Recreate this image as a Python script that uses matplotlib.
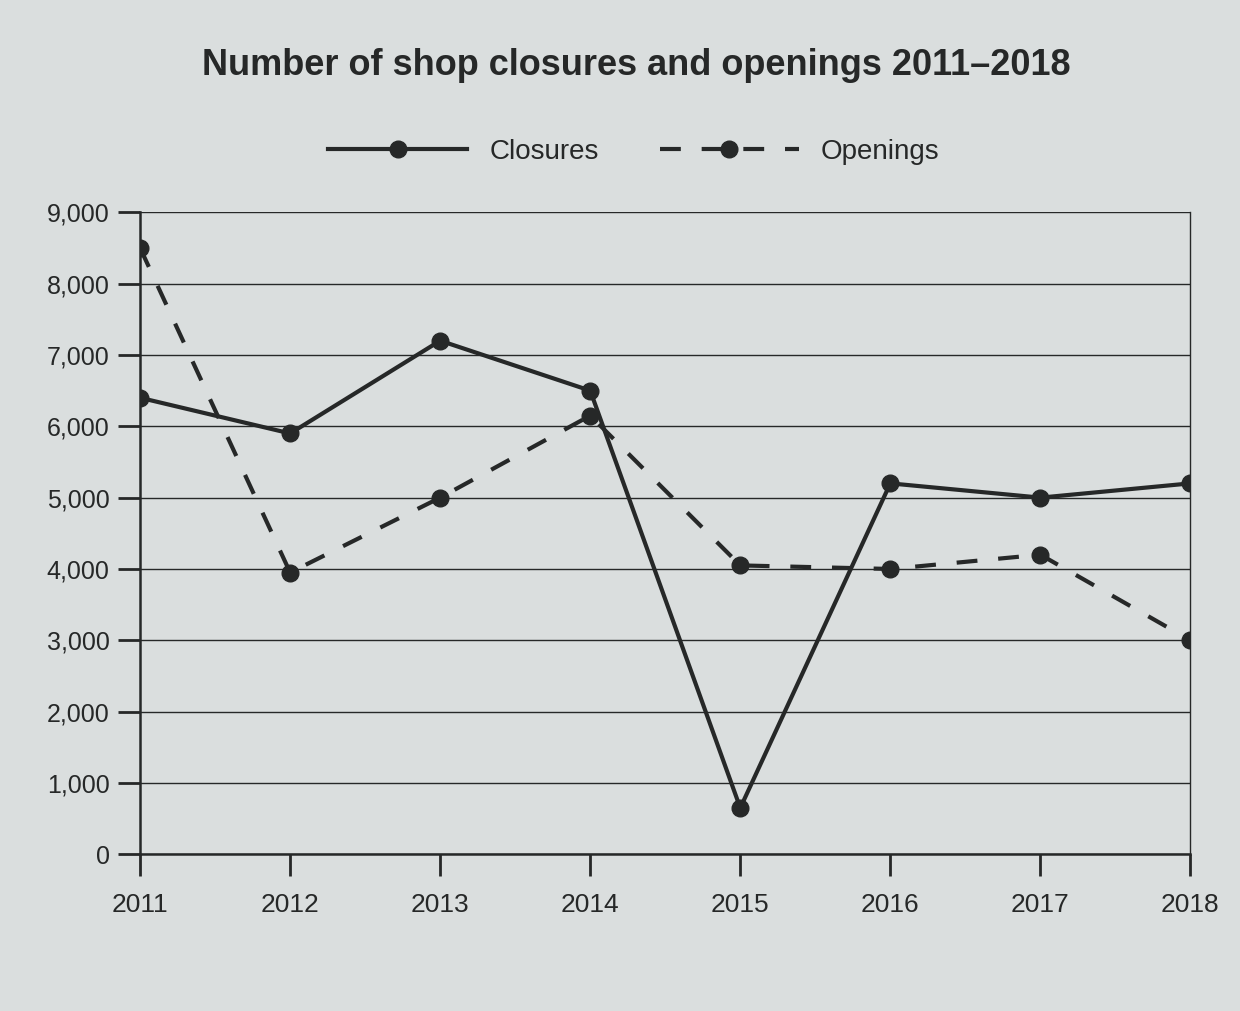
import matplotlib

matplotlib.use("Agg")

import matplotlib.pyplot as plt
from matplotlib.ticker import FuncFormatter

years = [2011, 2012, 2013, 2014, 2015, 2016, 2017, 2018]
closures = [6400, 5900, 7200, 6500, 650, 5200, 5000, 5200]
openings = [8500, 3950, 5000, 6150, 4050, 4000, 4200, 3000]
y_ticks = [0, 1000, 2000, 3000, 4000, 5000, 6000, 7000, 8000, 9000]

INK = "#262828"
PAPER = "#dadede"

plt.rcParams["font.family"] = ["Liberation Sans", "DejaVu Sans"]

fig = plt.figure(figsize=(12.4, 10.11), dpi=100, facecolor=PAPER)
ax = fig.add_axes([0.113, 0.155, 0.847, 0.635], facecolor=PAPER)

ax.plot(years, closures, color=INK, lw=3, marker="o", ms=12,
        label="Closures")
ax.plot(years, openings, color=INK, lw=3, marker="o", ms=12,
        dashes=(5, 5), label="Openings")

ax.set_xlim(2011, 2018)
ax.set_ylim(0, 9000)
ax.set_yticks(y_ticks)
ax.yaxis.set_major_formatter(FuncFormatter(lambda v, _: f"{int(v):,}"))
ax.set_xticks(years)
ax.grid(axis="y", color=INK, lw=1.0)
ax.set_axisbelow(True)

for side in ["left", "bottom"]:
    ax.spines[side].set_color(INK)
    ax.spines[side].set_linewidth(1.8)
ax.spines["right"].set_color(INK)
ax.spines["right"].set_linewidth(1.0)
ax.spines["top"].set_visible(False)

ax.tick_params(axis="y", direction="out", length=16, width=2, colors=INK,
               labelsize=18, pad=6)
ax.tick_params(axis="x", direction="out", length=16, width=2, colors=INK,
               labelsize=19, pad=12)

fig.text(0.513, 0.935, "Number of shop closures and openings 2011\u20132018",
         ha="center", va="center", fontsize=26, fontweight="bold", color=INK)

leg = ax.legend(loc="lower center", bbox_to_anchor=(0.47, 1.035), ncol=2,
                frameon=False, fontsize=20, handlelength=5.0,
                columnspacing=2.2, handletextpad=0.8)
for t in leg.get_texts():
    t.set_color(INK)

fig.savefig("out.png", dpi=100, facecolor=PAPER)
